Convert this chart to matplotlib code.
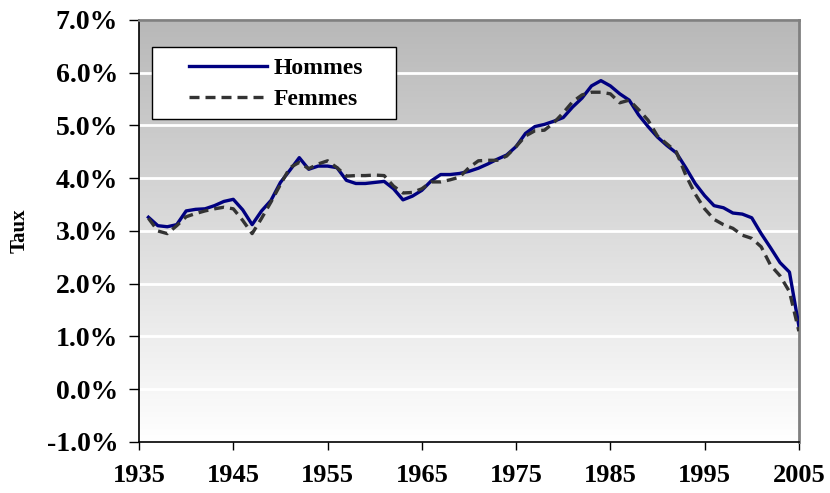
import numpy as np
import matplotlib
matplotlib.use("Agg")
import matplotlib.pyplot as plt
from matplotlib.colors import LinearSegmentedColormap
from matplotlib.patches import Rectangle
from matplotlib.ticker import FuncFormatter

# Données (taux en %)
annees = list(range(1936, 2006))
hommes = [3.26, 3.10, 3.08, 3.12, 3.38, 3.41, 3.42, 3.48, 3.56, 3.60,
          3.40, 3.12, 3.38, 3.58, 3.92, 4.15, 4.39, 4.17, 4.23, 4.23,
          4.20, 3.96, 3.90, 3.90, 3.92, 3.94, 3.80, 3.59, 3.66, 3.77,
          3.95, 4.07, 4.07, 4.09, 4.13, 4.19, 4.27, 4.36, 4.44, 4.60,
          4.85, 4.98, 5.02, 5.08, 5.15, 5.35, 5.52, 5.75, 5.85, 5.75,
          5.60, 5.48, 5.20, 4.98, 4.78, 4.62, 4.48, 4.20, 3.90, 3.67,
          3.48, 3.44, 3.34, 3.32, 3.25, 2.95, 2.68, 2.40, 2.22, 1.20]
femmes = [3.24, 3.00, 2.95, 3.10, 3.27, 3.33, 3.38, 3.42, 3.45, 3.42,
          3.20, 2.95, 3.24, 3.55, 3.88, 4.20, 4.30, 4.18, 4.27, 4.33,
          4.20, 4.04, 4.05, 4.05, 4.06, 4.05, 3.85, 3.72, 3.73, 3.80,
          3.93, 3.93, 3.97, 4.02, 4.20, 4.33, 4.34, 4.34, 4.42, 4.60,
          4.80, 4.90, 4.91, 5.05, 5.24, 5.45, 5.58, 5.63, 5.63, 5.60,
          5.43, 5.48, 5.30, 5.10, 4.80, 4.65, 4.50, 4.06, 3.70, 3.42,
          3.22, 3.12, 3.05, 2.92, 2.86, 2.70, 2.35, 2.15, 1.85, 1.10]
x_ticks = list(range(1935, 2006, 10))
y_ticks = list(range(-1, 8))

plt.rcParams['font.family'] = ['Liberation Serif', 'DejaVu Serif']
plt.rcParams['font.weight'] = 'bold'
plt.rcParams['axes.labelweight'] = 'bold'

fig = plt.figure(figsize=(8.3, 4.93), dpi=100)
ax = fig.add_axes([0.1675, 0.1035, 0.795, 0.856])

# fond en dégradé gris -> blanc
fond = LinearSegmentedColormap.from_list("fond", ["#b8b8b8", "#ffffff"])
ax.imshow(np.linspace(0, 1, 256).reshape(-1, 1), cmap=fond, origin='upper',
          extent=[1935, 2005, -1, 7], aspect='auto', zorder=0)

ax.plot(annees, hommes, color='#000080', lw=2.4, zorder=3,
        solid_joinstyle='round', label='Hommes')
ax.plot(annees, femmes, color='#333333', lw=2.4, dashes=(3, 1.8), zorder=3,
        label='Femmes')

ax.set_xlim(1935, 2005)
ax.set_ylim(-1, 7)
ax.set_xticks(x_ticks)
ax.set_yticks(y_ticks)
ax.yaxis.set_major_formatter(FuncFormatter(lambda v, p: f"{v:.1f}%"))
ax.grid(axis='y', color='white', lw=2)
ax.set_axisbelow(True)

ax.tick_params(axis='y', direction='out', length=7, width=1, labelsize=20, pad=8)
ax.tick_params(axis='x', direction='out', length=6, width=1, labelsize=19, pad=10)
for s in ['left', 'bottom']:
    ax.spines[s].set_color('black')
    ax.spines[s].set_linewidth(1.2)
for s in ['top', 'right']:
    ax.spines[s].set_color('#808080')
    ax.spines[s].set_linewidth(2)

ax.set_ylabel('Taux', fontsize=15, fontweight='bold', labelpad=12)

# cadre de la légende
ax.add_patch(Rectangle((0.0197, 0.765), 0.3697, 0.171, transform=ax.transAxes,
                       facecolor='white', edgecolor='black', lw=1, zorder=4))
leg = ax.legend(loc='upper left', bbox_to_anchor=(0.0758, 0.91), frameon=False,
                prop={'size': 17, 'weight': 'bold'}, handlelength=3.3,
                handletextpad=0.3, labelspacing=0.4, borderpad=0,
                borderaxespad=0)
leg.set_zorder(5)

fig.savefig("out.png", dpi=100)
